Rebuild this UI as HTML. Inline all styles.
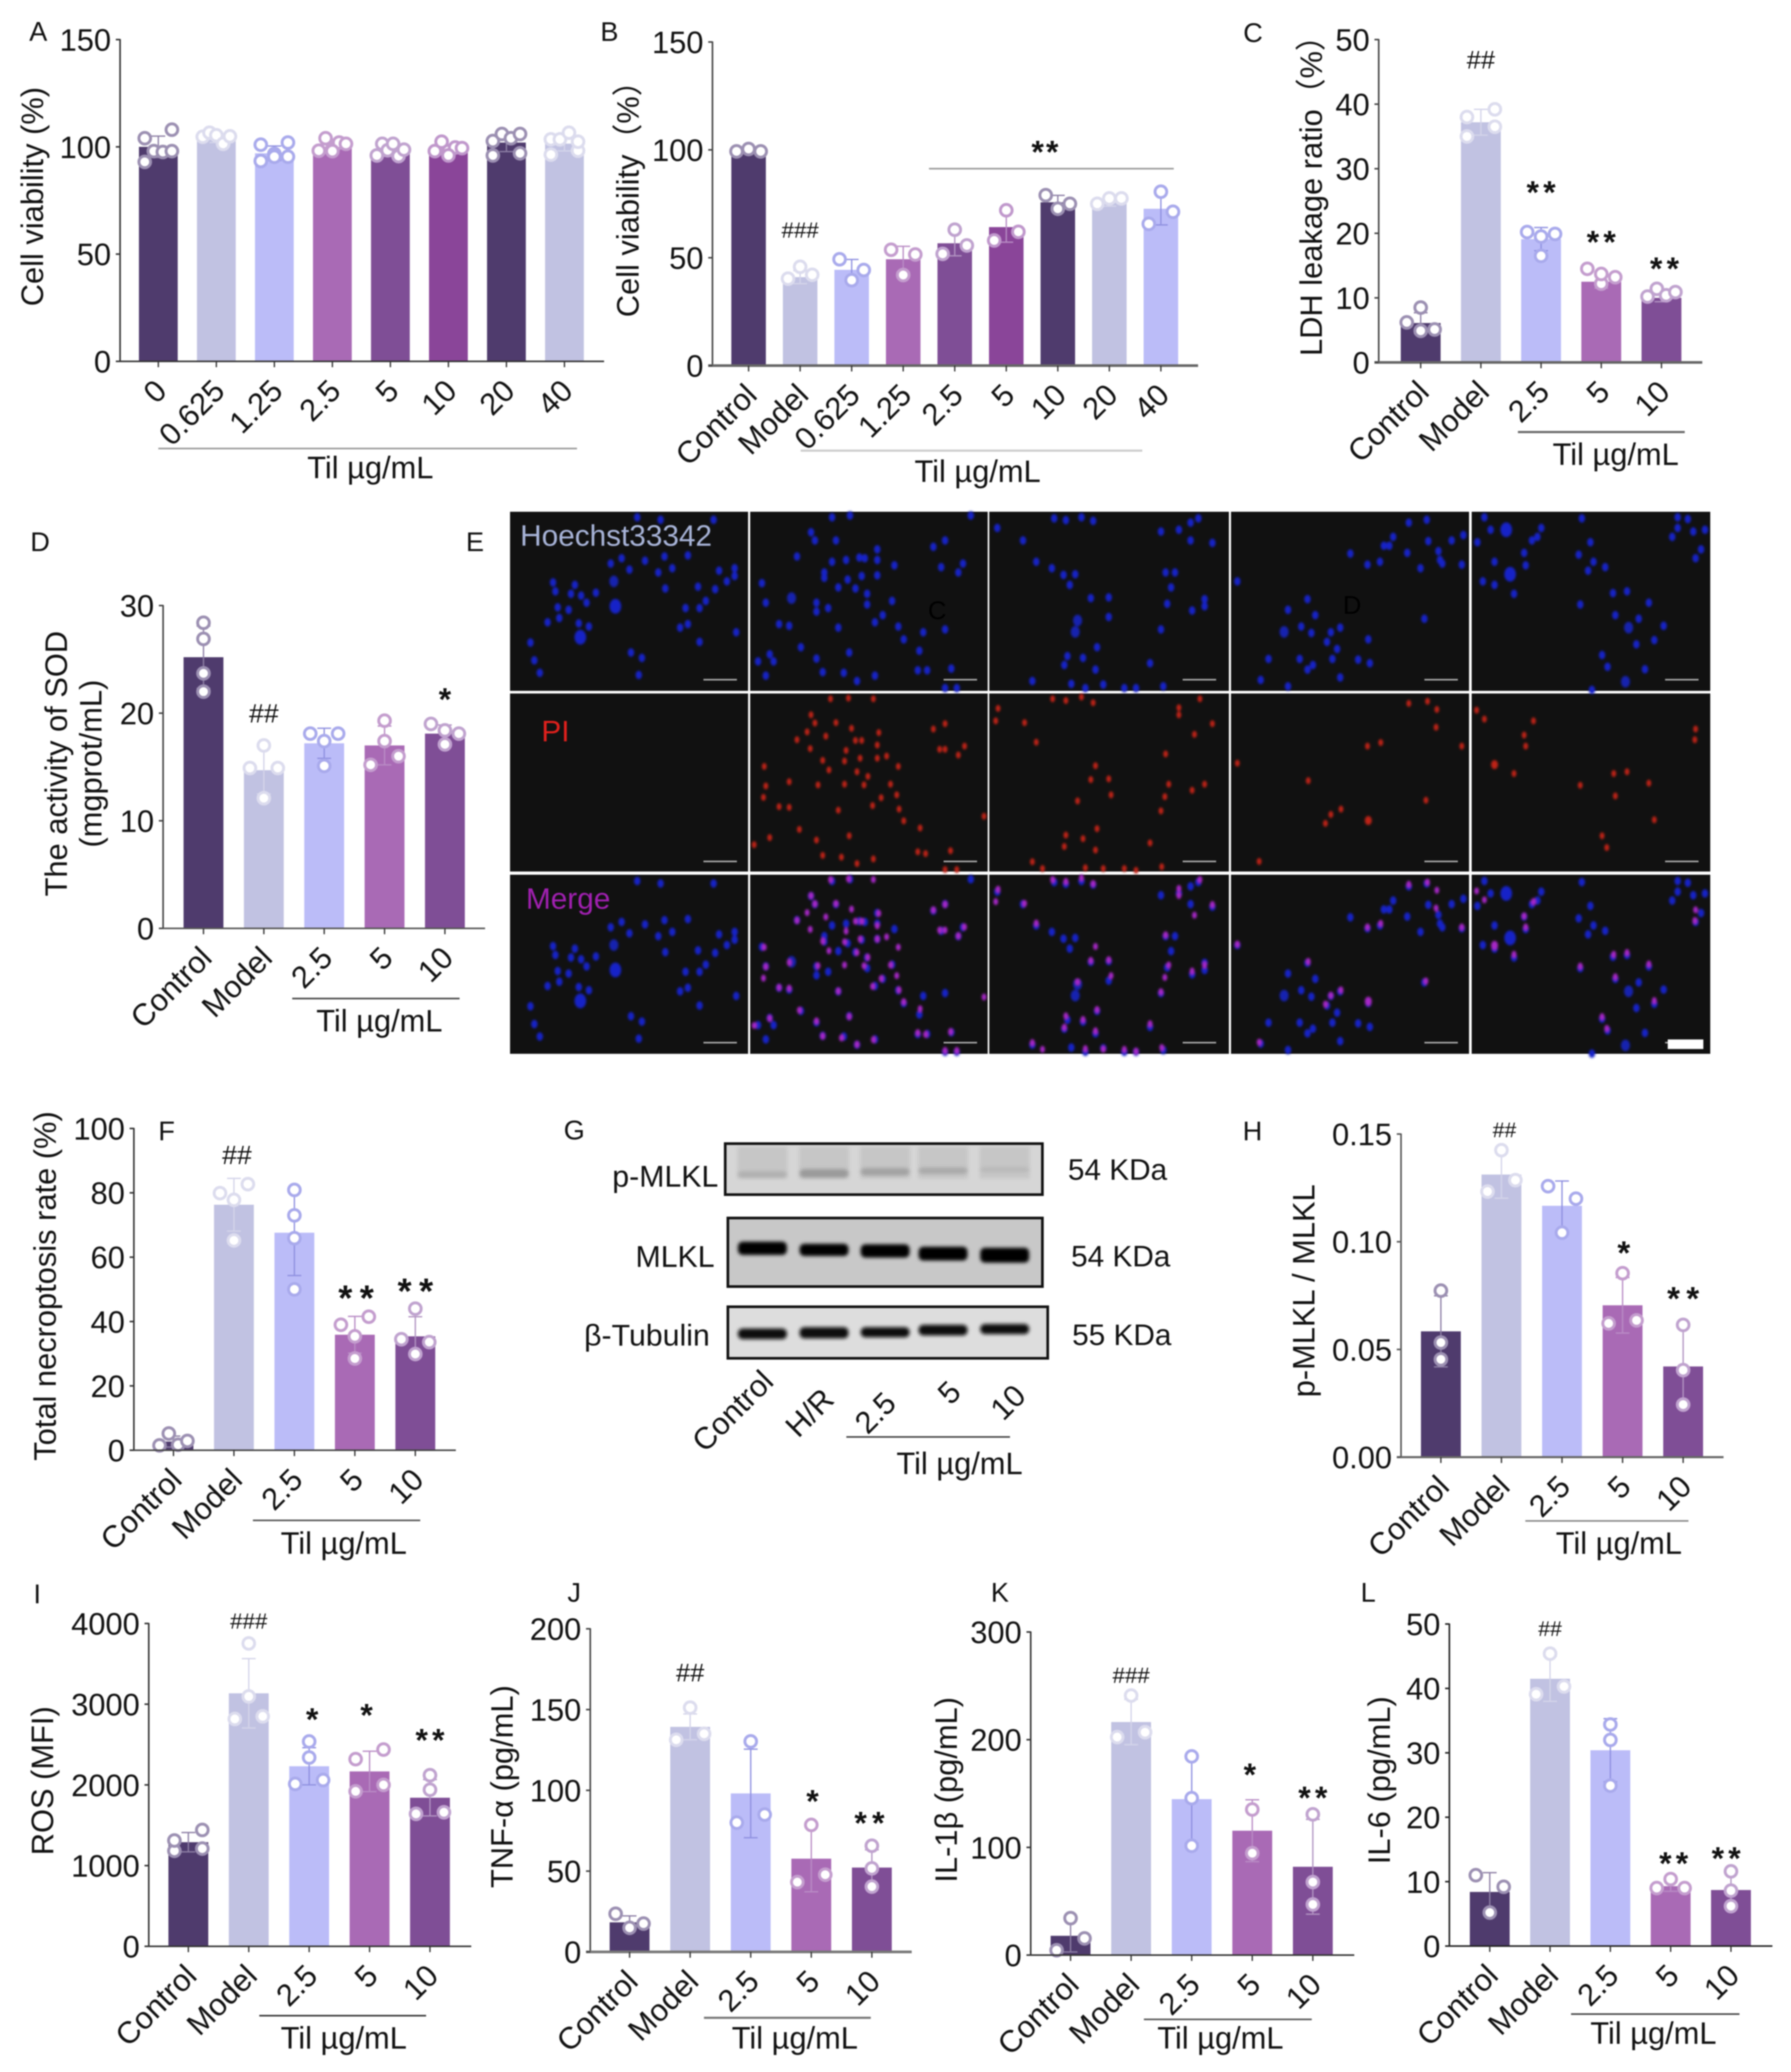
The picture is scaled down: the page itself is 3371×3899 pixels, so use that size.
<!DOCTYPE html>
<html lang="en">
<head>
<meta charset="utf-8">
<title>Til figure panels A-L</title>
<style>
html,body{margin:0;padding:0;background:#fff;}
#figure{display:block;width:3371px;height:3899px;filter:blur(1.2px);font-family:"Liberation Sans","Noto Sans CJK SC",sans-serif;}
.panel-letter{font-size:51px;fill:#111;}
.blot-label{font-size:57px;fill:#111;}
.lane-label{font-size:58px;fill:#111;}
.kda-label{font-size:56px;fill:#111;}
</style>
</head>
<body>
<svg id="figure" xmlns="http://www.w3.org/2000/svg" width="3371" height="3899" viewBox="0 0 3371 3899">
<defs>
<filter id="soft" x="-30%" y="-100%" width="160%" height="300%"><feGaussianBlur stdDeviation="3.5"/></filter>
<filter id="softCell" x="-50%" y="-50%" width="200%" height="200%"><feGaussianBlur stdDeviation="2"/></filter>
</defs>
<rect x="0" y="0" width="3371" height="3899" fill="#fff"/>
<text class="panel-letter" x="55" y="77">A</text>
<text class="panel-letter" x="1130" y="77">B</text>
<text class="panel-letter" x="2340" y="79">C</text>
<text class="panel-letter" x="57" y="1037">D</text>
<text class="panel-letter" x="877" y="1037">E</text>
<text class="panel-letter" x="298" y="2146">F</text>
<text class="panel-letter" x="1061" y="2144">G</text>
<text class="panel-letter" x="2339" y="2146">H</text>
<text class="panel-letter" x="63" y="3017">I</text>
<text class="panel-letter" x="1068" y="3014">J</text>
<text class="panel-letter" x="1865" y="3014">K</text>
<text class="panel-letter" x="2561" y="3014">L</text>
<g id="micrograph"></g>
<g id="blots"></g>
<text class="blot-label" x="1352" y="2233" text-anchor="end">p-MLKL</text>
<text class="blot-label" x="1345" y="2384" text-anchor="end">MLKL</text>
<text class="blot-label" x="1336" y="2532" text-anchor="end">β-Tubulin</text>
<text class="kda-label" x="2010" y="2220">54 KDa</text>
<text class="kda-label" x="2016" y="2383">54 KDa</text>
<text class="kda-label" x="2018" y="2531">55 KDa</text>
<text class="lane-label" text-anchor="end" transform="translate(1459 2603) rotate(-45)">Control</text>
<text class="lane-label" text-anchor="end" transform="translate(1573 2637) rotate(-45)">H/R</text>
<text class="lane-label" text-anchor="end" transform="translate(1690 2644) rotate(-45)">2.5</text>
<text class="lane-label" text-anchor="end" transform="translate(1812 2623) rotate(-45)">5</text>
<text class="lane-label" text-anchor="end" transform="translate(1934 2630) rotate(-45)">10</text>
<line x1="1593" y1="2704" x2="1901" y2="2704" stroke="#444" stroke-width="3"/>
<text class="lane-label" x="1806" y="2774" text-anchor="middle">Til µg/mL</text>
<g id="charts"></g>
</svg>
<script>
// ---------- chart data ----------
const catsDose = ['Control', 'Model', '2.5', '5', '10'];

const catsA = ['0', '0.625', '1.25', '2.5', '5', '10', '20', '40'];
const ticksA = [0, 50, 100, 150];
const tickLabelsA = ['0', '50', '100', '150'];
const meansA = [100, 104, 97, 100, 98, 98.5, 102, 101.5];
const sdsA = [5, 2, 3.4, 2.4, 2.4, 2.2, 4.2, 3.4];
const pointsA = [
  [104, 108, 93, 98, 97.6, 98],
  [104.7, 106.6, 105.4, 101.4, 104.9],
  [101, 93.4, 96.7, 102, 95.4, 95.4],
  [98.2, 104, 99, 102, 98, 101.4],
  [96, 101.4, 98.4, 101.4, 95.7, 98.7],
  [98, 102.4, 98, 99.7, 96, 99.4],
  [102.7, 106, 96, 104, 97, 106],
  [103.5, 96.4, 103.5, 106.6, 98.2, 102.4]
];

const catsB = ['Control', 'Model', '0.625', '1.25', '2.5', '5', '10', '20', '40'];
const ticksB = [0, 50, 100, 150];
const tickLabelsB = ['0', '50', '100', '150'];
const meansB = [100, 41, 44.4, 49.3, 56.7, 64.2, 75.7, 75.5, 72.7];
const sdsB = [0.6, 3, 4.8, 6, 5.8, 7, 3.2, 1.6, 7.5];
const pointsB = [
  [99.3, 100.4, 99.3],
  [40.3, 45.8, 42.1],
  [49.3, 39.6, 44.3],
  [53.7, 51.5, 42],
  [63, 51.8, 55.7],
  [72, 58, 62],
  [79, 72.7, 75],
  [75, 77.5, 77.5],
  [80.6, 65.7, 71.3]
];
const sigTextB = ['###', '**'];
const sigCatB = [1, 5.75];
const sigValB = [62.8, 102.5];
const sigLineCatsB = [3.5, 8.25];
const sigLineValB = 91.3;

const ticksC = [0, 10, 20, 30, 40, 50];
const tickLabelsC = ['0', '10', '20', '30', '40', '50'];
const meansC = [6.1, 37.2, 19.1, 12.5, 10];
const sdsC = [1.6, 2, 1.8, 1, 0.6];
const pointsC = [
  [8.5, 6.2, 4.9, 5.1],
  [38, 35, 39.2, 36.5],
  [20.2, 19.5, 16.5, 19.9],
  [14.5, 12.2, 13.7, 13.2],
  [10.2, 11.4, 10.4, 10.9]
];
const sigTextC = ['##', '**', '**', '**'];
const sigCatC = [1, 2, 3, 4.05];
const sigValC = [46.9, 27.5, 19.8, 15.7];

const ticksD = [0, 10, 20, 30];
const tickLabelsD = ['0', '10', '20', '30'];
const meansD = [25.2, 14.7, 17.2, 17, 18.1];
const sdsD = [2.9, 2.2, 1.4, 1.8, 0.8];
const pointsD = [
  [28.4, 26.9, 23.7, 22],
  [14.9, 17, 12.1, 14.9],
  [18.1, 17.4, 15.1, 18.1],
  [15.2, 19.3, 17.4, 16],
  [19, 17.1, 18.4, 18.1]
];
const sigTextD = ['##', '*'];
const sigCatD = [1, 4];
const sigValD = [20, 22];

const ticksF = [0, 20, 40, 60, 80, 100];
const tickLabelsF = ['0', '20', '40', '60', '80', '100'];
const meansF = [2.7, 76.3, 67.6, 35.9, 35.4];
const sdsF = [1.7, 8.2, 13.3, 5.7, 6.1];
const pointsF = [
  [1.5, 5.2, 1.7, 2.9],
  [79.9, 82.7, 77.8, 65.2],
  [80.9, 73, 65.9, 50],
  [39, 41.5, 35.4, 28.5],
  [44, 34.5, 29.9, 33.6]
];
const sigTextF = ['##', '**', '**'];
const sigCatF = [1.05, 3.02, 4];
const sigValF = [91.8, 50, 52.2];

const ticksH = [0, 0.05, 0.1, 0.15];
const tickLabelsH = ['0.00', '0.05', '0.10', '0.15'];
const meansH = [0.0584, 0.1312, 0.1167, 0.0705, 0.0421];
const sdsH = [0.0165, 0.011, 0.0115, 0.0129, 0.0185];
const pointsH = [
  [0.0773, 0.0532, 0.0454],
  [0.1425, 0.1233, 0.1286],
  [0.1258, 0.12, 0.1042],
  [0.0854, 0.0621, 0.0635],
  [0.0614, 0.0404, 0.0244]
];
const sigTextH = ['##', '*', '**'];
const sigCatH = [1.05, 3.02, 4];
const sigValH = [0.152, 0.0984, 0.0772];

const ticksI = [0, 1000, 2000, 3000, 4000];
const tickLabelsI = ['0', '1000', '2000', '3000', '4000'];
const meansI = [1290, 3135, 2231, 2167, 1841];
const sdsI = [120, 430, 230, 250, 225];
const pointsI = [
  [1183, 1311, 1442, 1211],
  [3753, 3096, 2817, 2849],
  [2538, 2339, 2012, 2060],
  [2319, 2438, 1920, 2000],
  [2120, 1940, 1641, 1661]
];
const sigTextI = ['###', '*', '*', '**'];
const sigCatI = [1, 2.05, 2.95, 4];
const sigValI = [4032, 2906, 2959, 2650];

const ticksJ = [0, 50, 100, 150, 200];
const tickLabelsJ = ['0', '50', '100', '150', '200'];
const meansJ = [18.3, 139.3, 98.1, 57.7, 52.2];
const sdsJ = [4, 8, 27.4, 20.5, 11];
const pointsJ = [
  [23.6, 14.9, 17.5],
  [151.2, 131.3, 135],
  [130.3, 80, 85],
  [78.6, 43.2, 47.8],
  [65.7, 51.7, 40.4]
];
const sigTextJ = ['##', '*', '**'];
const sigCatJ = [1, 3.02, 3.96];
const sigValJ = [173, 98, 84.5];

const ticksK = [0, 100, 200, 300];
const tickLabelsK = ['0', '100', '200', '300'];
const meansK = [17.9, 216.4, 144.8, 115.5, 82];
const sdsK = [15, 21, 41, 28.7, 44];
const pointsK = [
  [34.3, 4.5, 15.5],
  [241, 202.4, 206.9],
  [184.5, 145.7, 101.5],
  [135.2, 94.6],
  [130.7, 67.8, 47]
];
const sigTextK = ['###', '*', '**'];
const sigCatK = [1, 2.96, 4];
const sigValK = [260, 174.6, 153];

const ticksL = [0, 10, 20, 30, 40, 50];
const tickLabelsL = ['0', '10', '20', '30', '40', '50'];
const meansL = [8.4, 41.5, 30.4, 9.3, 8.7];
const sdsL = [3, 3.5, 4.9, 0.8, 2.7];
const pointsL = [
  [11, 5.2, 9.2],
  [45.4, 39.1, 40.3],
  [34.4, 32, 24.9],
  [9, 10.4, 9],
  [11.6, 8.6, 6.2]
];
const sigTextL = ['##', '**', '**'];
const sigCatL = [1, 3.05, 3.92];
const sigValL = [49.3, 14, 14.8];

// ---------- micrograph content (nuclei, in crop units) ----------
const blueNuclei = [
  [[170,35],[200,42],[268,42],[235,142],[205,145],[180,157],[150,150],[136,165],[160,182],[215,178],[197,190],[295,178],[275,185],[295,200],[285,215],[62,218],[140,215,1],[65,243],[90,225],[85,250],[117,247],[98,255],[105,275],[206,235],[248,230],[270,237],[258,270],[250,290],[232,290],[68,288],[82,295],[142,285,2],[70,318],[55,330],[95,333],[108,342],[235,335],[225,345],[297,358],[97,372,2],[33,387],[250,385],[162,415],[176,430],[38,437],[45,472],[172,478]],
  [[420,35],[443,30],[598,30],[393,77],[398,100],[425,100],[565,100],[550,118],[478,125],[375,145],[420,160],[438,155],[455,148],[462,150],[478,155],[500,170],[410,190],[440,210],[458,200],[478,198],[560,175],[588,165],[582,190],[410,205],[450,235],[428,232],[465,250],[368,262,1],[330,220],[335,275],[400,275],[415,290],[400,300],[497,270],[465,280],[352,335],[365,340],[428,345],[475,330],[505,342],[485,310],[537,358],[565,350],[512,378],[380,400],[442,415],[532,410],[340,420],[325,440],[345,440],[400,432],[408,470],[435,472],[452,495],[475,480],[530,465],[542,465],[573,460],[335,480],[565,515],[580,515]],
  [[705,38],[720,43],[740,35],[755,45],[890,38],[880,50],[632,65],[665,100],[880,100],[908,107],[842,75],[865,70],[682,160],[702,178],[717,197],[732,195],[848,190],[860,190],[725,225],[855,232],[752,262],[775,260],[850,278],[882,297],[898,265],[898,285],[775,315],[735,325,1],[732,357,1],[842,350],[760,400],[722,425],[742,430],[828,445],[718,450],[758,463],[677,495],[727,503],[768,505],[795,515],[810,515],[845,510],[745,515]],
  [[1183,42],[1160,50],[1140,90],[1135,115],[1128,115],[1185,102],[1215,100],[1230,85],[1085,137],[1158,135],[1198,130],[1200,155],[1123,160],[1107,168],[1175,178],[1203,165],[1228,168],[940,215],[1030,265],[1005,295],[1040,310],[1180,320],[1072,345],[1022,342],[1000,357,1],[1035,360],[1060,358],[1055,385],[1108,378],[1068,405],[980,433],[1020,433],[1037,450],[1030,463],[1062,433],[1095,435],[1110,445],[1072,485],[970,492],[1005,510]],
  [[1257,35],[1382,38],[1505,35],[1518,40],[1265,70],[1285,70,2],[1330,65],[1505,65],[1525,75],[1540,70],[1325,90],[1498,90],[1248,105],[1393,105],[1318,100],[1535,125],[1528,150],[1308,135],[1270,160],[1378,140],[1397,160],[1412,175],[1310,170],[1390,185],[1290,195,2],[1255,215],[1270,225],[1295,250],[1422,248],[1440,243],[1380,280],[1468,275],[1425,310],[1455,320],[1442,345,1],[1487,340],[1475,380],[1452,392],[1408,422],[1415,455],[1463,462],[1438,497,1],[1395,520]]
];
const redNuclei = [
  [],
  [[418,545],[441,543],[473,545],[393,590],[398,613],[425,612],[565,615],[550,630],[388,638],[375,660],[412,650],[445,628],[480,640],[450,662],[458,662],[438,690],[392,685],[478,675],[558,687],[565,687],[590,678],[582,703],[408,718],[436,720],[456,712],[478,712],[490,706],[416,745],[452,750],[505,735],[333,735],[466,763],[365,778],[402,787],[436,785],[461,787],[335,790],[495,785],[332,822],[352,848],[365,850],[428,858],[472,845],[503,815],[483,823],[506,855],[512,888],[533,908],[378,912],[400,942],[340,935],[320,955],[442,930],[530,975],[540,980],[572,972],[408,985],[432,990],[452,1008],[473,995],[565,1025],[580,1025],[615,875]],
  [[703,545],[720,550],[740,540],[755,556],[892,545],[865,570],[865,590],[633,572],[630,607],[667,612],[682,667],[908,615],[885,645],[848,700],[758,733],[752,772],[775,770],[852,785],[882,802],[898,785],[735,832],[778,815],[847,820],[842,860],[760,910],[720,928],[742,938],[828,950],[718,960],[758,970],[677,1003],[745,1020],[768,1022],[795,1022],[810,1027],[843,1017],[690,1022]],
  [[1160,558],[1184,552],[1196,575],[1195,625],[1107,678],[1124,668],[1228,678],[940,726],[1031,775],[1182,830],[1073,855],[1060,870],[1053,895],[1108,887,1],[968,1002]],
  [[1247,577],[1257,602],[1320,607],[1528,630],[1527,660],[1308,647],[1310,678],[1270,730,1],[1295,755],[1423,755],[1440,750],[1380,788],[1468,782],[1425,818],[1475,885],[1408,930],[1414,963]]
];

// ---------- blot content ----------
const bandLabels = ['p-mlkl', 'mlkl', 'tubulin'];
const bandLanes = [1435, 1551, 1666, 1775, 1891];

// ---------- drawing ----------
const NS = 'http://www.w3.org/2000/svg';
const barFills = ['#4f3b6d', '#c1c2e2', '#bbbcf8', '#a96ab5', '#7f4e96', '#8a4599'];
const ringCols = ['#9c90b2', '#dcdcee', '#a9aaec', '#c49dce', '#c0a3cf', '#c098cc'];
const errCols = ['#8d7fa5', '#d4d4ea', '#8f90e0', '#b98cc5', '#b294c2', '#b88cc4'];

function mk(parent, tag, attrs) {
  const el = document.createElementNS(NS, tag);
  for (const k in attrs) el.setAttribute(k, attrs[k]);
  parent.appendChild(el);
  return el;
}
function txt(parent, str, x, y, size, anchor, rot, fill, weight) {
  const el = mk(parent, 'text', {
    'font-size': size,
    'text-anchor': anchor,
    fill: fill || '#111',
    transform: 'translate(' + x + ' ' + y + ') rotate(' + (rot || 0) + ')'
  });
  if (weight) el.setAttribute('font-weight', weight);
  el.textContent = str;
  return el;
}
function swarm(values, pxPerUnit, halfSpan) {
  const order = values.map((v, i) => i).sort((a, b) => values[b] - values[a]);
  const offsets = new Array(values.length).fill(0);
  let i = 0;
  while (i < order.length) {
    const start = values[order[i]];
    let bin = [];
    while (i < order.length && (start - values[order[i]]) * pxPerUnit <= 24) {
      bin.push(order[i]);
      i++;
    }
    bin.sort((a, b) => a - b);
    bin.forEach((idx, k) => {
      offsets[idx] = bin.length === 1 ? 0 : -halfSpan + 2 * halfSpan * k / (bin.length - 1);
    });
  }
  return offsets;
}

function drawPanel(c) {
  const g = mk(document.getElementById('charts'), 'g', {});
  
  
  const yScale = v => c.y0 - (v / c.yMax) * (c.y0 - c.yTop);
  const xScale = i => c.c0 + i * c.step;
  const pxPerUnit = (c.y0 - c.yTop) / c.yMax;

  c.means.forEach((m, i) => {
    const col = i % barFills.length;
    const bar = mk(g, 'rect', { x: xScale(i) - c.barW / 2, y: yScale(m), width: c.barW, height: c.y0 - yScale(m), fill: barFills[col] });
    
    
  });

  c.means.forEach((m, i) => {
    const col = i % errCols.length;
    const cx = xScale(i);
    const hi = yScale(m + c.sds[i]);
    const lo = yScale(Math.max(0, m - c.sds[i]));
    const stem = mk(g, 'line', { x1: cx, x2: cx, y1: hi, y2: lo, stroke: errCols[col], 'stroke-width': 2.5 });
    
    
    [hi, lo].forEach(yy => {
      const cap = mk(g, 'line', { x1: cx - 13, x2: cx + 13, y1: yy, y2: yy, stroke: errCols[col], 'stroke-width': 2.5 });
      
      
    });
  });

  c.points.forEach((vals, i) => {
    const col = i % ringCols.length;
    const offs = swarm(vals, pxPerUnit, c.barW * 0.35);
    vals.forEach((v, k) => {
      const pt = mk(g, 'circle', { cx: xScale(i) + offs[k], cy: yScale(v), r: 11, fill: '#fff', stroke: ringCols[col], 'stroke-width': 5.5 });
      
      
    });
  });

  const yAxis = mk(g, 'line', { x1: c.axisX, x2: c.axisX, y1: c.yTop - 1, y2: c.y0, stroke: c.yAxisCol || '#333', 'stroke-width': 3 });
  
  
  const xAxis = mk(g, 'line', { x1: c.axisX - 8, x2: c.xEnd, y1: c.y0, y2: c.y0, stroke: c.xAxisCol || '#333', 'stroke-width': c.xAxisW || 3 });
  
  

  c.ticks.forEach((t, i) => {
    const yy = yScale(t);
    const tk = mk(g, 'line', { x1: c.axisX - 8, x2: c.axisX, y1: yy, y2: yy, stroke: c.yAxisCol || '#333', 'stroke-width': 3 });
    
    
    const lab = txt(g, c.tickLabels[i], c.axisX - 17, yy + 21, 58, 'end');
    
    
  });

  c.cats.forEach((name, i) => {
    const cx = xScale(i);
    const tk = mk(g, 'line', { x1: cx, x2: cx, y1: c.y0, y2: c.y0 + 11, stroke: '#333', 'stroke-width': 2.5 });
    
    
    const lab = txt(g, name, cx + 19, c.y0 + 59, 58, 'end', -45);
    
    
  });

  (c.yLabel || []).forEach(l => {
    const lab = txt(g, l[0], l[1], c.yLabelY, 58, 'middle', -90);
    
    
  });

  const br = mk(g, 'line', { x1: c.br[0], x2: c.br[1], y1: c.br[2], y2: c.br[2], stroke: c.brCol || '#555', 'stroke-width': c.brW || 3 });
  
  
  const dose = txt(g, 'Til µg/mL', c.dose[0], c.dose[1], 58, 'middle');
  
  

  if (c.sigLineCats) {
    const sl = mk(g, 'line', { x1: xScale(c.sigLineCats[0]), x2: xScale(c.sigLineCats[1]), y1: yScale(c.sigLineVal), y2: yScale(c.sigLineVal), stroke: '#999', 'stroke-width': 3 });
    
    
  }

  (c.sigText || []).forEach((s, i) => {
    const cx = xScale(c.sigCat[i]);
    const cy = yScale(c.sigVal[i]);
    if (s[0] === '#') {
      const h = txt(g, s, cx, cy + c.hashSize * 0.35, c.hashSize, 'middle');
      
      
    } else {
      const gap = c.starGap || 6;
      const size = c.starSize || 60;
      const st = txt(g, s, cx + gap / 2, cy + size * 0.58, size, 'middle', 0, '#111', 'bold');
      st.setAttribute('letter-spacing', gap);
      
      
    }
  });
}

const parenB = 'Cell viability（%）';
const parenC = 'LDH leakage ratio（%）';

drawPanel({ id: 'a', cats: catsA, means: meansA, sds: sdsA, points: pointsA, ticks: ticksA, tickLabels: tickLabelsA, yMax: 150,
  axisX: 226, y0: 680, yTop: 74.5, xEnd: 1137, c0: 298, step: 109.2, barW: 73,
  yLabel: [['Cell viability (%)', 81]], yLabelY: 370, br: [298, 1086, 844], brCol: '#999', dose: [697, 900] });

drawPanel({ id: 'b', cats: catsB, means: meansB, sds: sdsB, points: pointsB, ticks: ticksB, tickLabels: tickLabelsB, yMax: 150,
  axisX: 1341, y0: 688, yTop: 79, xEnd: 2255, c0: 1409, step: 97, barW: 65, yAxisCol: '#444', xAxisCol: '#666', xAxisW: 5,
  yLabel: [[parenB, 1202]], yLabelY: 360, br: [1507, 2150, 848], brCol: '#ccc', brW: 4, dose: [1840, 907],
  sigText: sigTextB, sigCat: sigCatB, sigVal: sigValB, hashSize: 42, starGap: 4, sigLineCats: sigLineCatsB, sigLineVal: sigLineValB });

drawPanel({ id: 'c', cats: catsDose, means: meansC, sds: sdsC, points: pointsC, ticks: ticksC, tickLabels: tickLabelsC, yMax: 50,
  axisX: 2595, y0: 682, yTop: 74.5, xEnd: 3204, c0: 2674, step: 113.3, barW: 75, yAxisCol: '#444', xAxisCol: '#666', xAxisW: 5,
  yLabel: [[parenC, 2488]], yLabelY: 354, br: [2857, 3171, 813], brCol: '#666', brW: 4, dose: [3041, 875],
  sigText: sigTextC, sigCat: sigCatC, sigVal: sigValC, hashSize: 48, starGap: 8 });

drawPanel({ id: 'd', cats: catsDose, means: meansD, sds: sdsD, points: pointsD, ticks: ticksD, tickLabels: tickLabelsD, yMax: 30,
  axisX: 307, y0: 1747, yTop: 1139.5, xEnd: 913, c0: 383, step: 113.6, barW: 75, yAxisCol: '#444', xAxisCol: '#555',
  yLabel: [['The activity of SOD', 126], ['(mgprot/mL)', 191]], yLabelY: 1437, br: [550, 865, 1879], brCol: '#444', dose: [714, 1941],
  sigText: sigTextD, sigCat: sigCatD, sigVal: sigValD, hashSize: 50 });

drawPanel({ id: 'f', cats: catsDose, means: meansF, sds: sdsF, points: pointsF, ticks: ticksF, tickLabels: tickLabelsF, yMax: 100,
  axisX: 252, y0: 2729, yTop: 2123.5, xEnd: 858, c0: 326.5, step: 113.8, barW: 75, yAxisCol: '#333', xAxisCol: '#444',
  yLabel: [['Total necroptosis rate (%)', 105]], yLabelY: 2420, br: [476, 791, 2861], brCol: '#555', dose: [647, 2924],
  sigText: sigTextF, sigCat: sigCatF, sigVal: sigValF, hashSize: 50, starGap: 14, starSize: 68 });

drawPanel({ id: 'h', cats: catsDose, means: meansH, sds: sdsH, points: pointsH, ticks: ticksH, tickLabels: tickLabelsH, yMax: 0.15,
  axisX: 2637, y0: 2742, yTop: 2134, xEnd: 3244, c0: 2712, step: 114, barW: 75, yAxisCol: '#555', xAxisCol: '#666', xAxisW: 4,
  yLabel: [['p-MLKL / MLKL', 2474]], yLabelY: 2429, br: [2871, 3178, 2862], brCol: '#888', dose: [3047, 2924],
  sigText: sigTextH, sigCat: sigCatH, sigVal: sigValH, hashSize: 40, starGap: 12, starSize: 62 });

drawPanel({ id: 'i', cats: catsDose, means: meansI, sds: sdsI, points: pointsI, ticks: ticksI, tickLabels: tickLabelsI, yMax: 4000,
  axisX: 280, y0: 3662.5, yTop: 3055, xEnd: 887, c0: 354.5, step: 113.7, barW: 75, yAxisCol: '#333',
  yLabel: [['ROS (MFI)', 100]], yLabelY: 3351, br: [488, 802, 3793], brCol: '#333', dose: [647, 3855],
  sigText: sigTextI, sigCat: sigCatI, sigVal: sigValI, hashSize: 42, starGap: 8 });

drawPanel({ id: 'j', cats: catsDose, means: meansJ, sds: sdsJ, points: pointsJ, ticks: ticksJ, tickLabels: tickLabelsJ, yMax: 200,
  axisX: 1111, y0: 3673, yTop: 3065, xEnd: 1716, c0: 1185, step: 114, barW: 75, yAxisCol: '#444', xAxisCol: '#777', xAxisW: 5,
  yLabel: [['TNF-α (pg/mL)', 965]], yLabelY: 3362, br: [1325, 1639, 3797], brCol: '#777', brW: 4, dose: [1496, 3855],
  sigText: sigTextJ, sigCat: sigCatJ, sigVal: sigValJ, hashSize: 48, starGap: 10 });

drawPanel({ id: 'k', cats: catsDose, means: meansK, sds: sdsK, points: pointsK, ticks: ticksK, tickLabels: tickLabelsK, yMax: 300,
  axisX: 1940, y0: 3679, yTop: 3071, xEnd: 2549, c0: 2015, step: 114, barW: 75, yAxisCol: '#333',
  yLabel: [['IL-1β (pg/mL)', 1801]], yLabelY: 3368, br: [2153, 2469, 3800], brCol: '#555', dose: [2297, 3855],
  sigText: sigTextK, sigCat: sigCatK, sigVal: sigValK, hashSize: 42, starGap: 8 });

drawPanel({ id: 'l', cats: catsDose, means: meansL, sds: sdsL, points: pointsL, ticks: ticksL, tickLabels: tickLabelsL, yMax: 50,
  axisX: 2728, y0: 3662, yTop: 3056, xEnd: 3336, c0: 2804, step: 113.5, barW: 75, yAxisCol: '#222', xAxisCol: '#222',
  yLabel: [['IL-6 (pg/mL)', 2616]], yLabelY: 3350, br: [2957, 3274, 3790], brCol: '#444', dose: [3112, 3846],
  sigText: sigTextL, sigCat: sigCatL, sigVal: sigValL, hashSize: 40, starGap: 8 });

// ---------- micrographs ----------
(function () {
  const host = document.getElementById('micrograph');
  const colX = [[960, 1408], [1412, 1859], [1862, 2313], [2317, 2765], [2770, 3219]];
  const rowY = [[963, 1300], [1305, 1640], [1646, 1983]];
  const rowNames = ['hoechst', 'pi', 'merge'];
  const zx = v => 950 + v / 0.6817;
  const zy = v => 950 + v / 1.4933;
  colX.forEach((cx, c) => {
    rowY.forEach((ry, r) => {
      const tile = mk(host, 'rect', { x: cx[0], y: ry[0], width: cx[1] - cx[0], height: ry[1] - ry[0], fill: '#111' });
      
      
      const sb = mk(host, 'line', { x1: cx[0] + 364, x2: cx[0] + 427, y1: ry[0] + 316, y2: ry[0] + 316, stroke: '#aaa', 'stroke-width': 3 });
      
      
    });
  });
  const cells = mk(host, 'g', { filter: 'url(#softCell)' });
  
  
  blueNuclei.forEach(list => {
    list.forEach(n => {
      const size = n[2] || 0;
      [0, 1022].forEach(dy => {
        const yy = zy(n[1] + dy);
        if (yy > 1983) return;
        const e = mk(cells, 'ellipse', { cx: zx(n[0]), cy: yy, rx: 6 + size * 2.5, ry: 8 + size * 3, fill: size === 1 ? '#1820b0' : '#1822c8' });
        
        
      });
    });
  });
  redNuclei.forEach(list => {
    list.forEach(n => {
      const size = n[2] || 0;
      const red = mk(cells, 'ellipse', { cx: zx(n[0]), cy: zy(n[1]), rx: 4.5 + size * 2, ry: 6.5 + size * 2, fill: '#c02418' });
      
      
      const yy = zy(n[1] + 508);
      if (yy <= 1983) {
        const m = mk(cells, 'ellipse', { cx: zx(n[0]), cy: yy, rx: 4.5 + size * 2, ry: 6.5 + size * 2, fill: '#a828c8' });
        
        
      }
    });
  });
  const labA = txt(host, 'Hoechst33342', 979, 1027, 56, 'start', 0, '#a8b4d8');
  
  
  const labB = txt(host, 'PI', 1019, 1395, 56, 'start', 0, '#e0201c');
  
  
  const labC = txt(host, 'Merge', 990, 1710, 56, 'start', 0, '#a020b0');
  
  
  const labD = txt(host, 'C', 1764, 1165, 48, 'middle', 0, '#000');
  
  
  const labE = txt(host, 'D', 2545, 1155, 48, 'middle', 0, '#000');
  
  
  const white = mk(host, 'rect', { x: 3139, y: 1956, width: 67, height: 18, fill: '#fff' });
  
  
})();

// ---------- western blots ----------
(function () {
  const host = document.getElementById('blots');
  const frames = [[1365, 2152, 597, 96, '#d6d6d6'], [1370, 2292, 592, 129, '#c8c8c8'], [1370, 2459, 602, 97, '#dddddd']];
  const bandRows = [[2210, 2208, 2205, 2203, 2201], [2349, 2352, 2354, 2359, 2362], [2510, 2508, 2507, 2503, 2501]];
  const bandHeight = [[12, 16, 14, 12, 9], [25, 23, 25, 26, 28], [20, 21, 19, 20, 19]];
  const bandColor = [['#b0b0b0', '#9a9a9a', '#a2a2a2', '#a9a9a9', '#b8b8b8'], ['#050505', '#050505', '#050505', '#050505', '#050505'], ['#0a0a0a', '#0a0a0a', '#0a0a0a', '#0a0a0a', '#0a0a0a']];
  frames.forEach((f, r) => {
    const bg = mk(host, 'rect', { x: f[0], y: f[1], width: f[2], height: f[3], fill: f[4] });
    
    
    bandLanes.forEach((lx, i) => {
      if (r === 0) {
        const smear = mk(host, 'rect', { x: lx - 47, y: f[1] + 6, width: 94, height: 60, fill: '#c6c6c6', filter: 'url(#soft)' });
        
        
      }
      const band = mk(host, 'rect', { x: lx - 46, y: bandRows[r][i] - bandHeight[r][i] / 2, width: 92, height: bandHeight[r][i], rx: 9, fill: bandColor[r][i], filter: 'url(#soft)' });
      
      
    });
    const frame = mk(host, 'rect', { x: f[0], y: f[1], width: f[2], height: f[3], fill: 'none', stroke: '#111', 'stroke-width': 5 });
    
    
  });
})();
</script>
</body>
</html>
